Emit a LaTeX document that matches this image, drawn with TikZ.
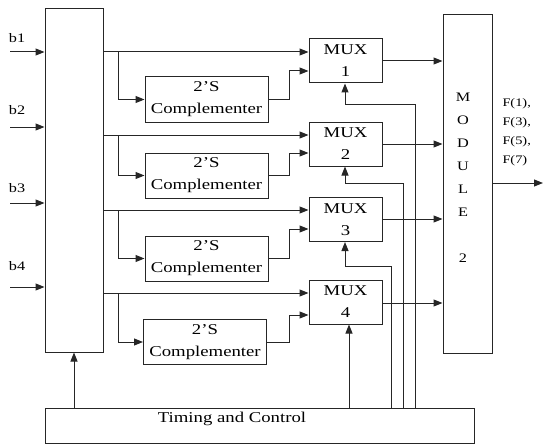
\documentclass[tikz,border=0pt]{standalone}
\usepackage{fontspec}
\setmainfont[FakeStretch=1.25]{Liberation Serif}
\usetikzlibrary{arrows.meta}
\begin{document}
\begin{tikzpicture}[x=1pt,y=-1pt,line width=1pt,draw=black!85,
  arr/.style={-{Triangle[length=9pt,width=7pt]}},
  blk/.style={draw,inner sep=0pt,align=center},
  big/.style={font=\fontsize{15}{22}\selectfont},
  sml/.style={font=\fontsize{11.5}{13}\selectfont,inner sep=0pt},
  mdl/.style={font=\fontsize{13}{15}\selectfont,inner sep=0pt},
  inl/.style={font=\fontsize{13}{15}\selectfont,inner sep=0pt}]
\useasboundingbox (0,0) rectangle (544,444);
% blocks
\node[blk,minimum width=58pt,minimum height=343pt] (L) at (74,180.5) {};
\node[blk,minimum width=49pt,minimum height=338pt] (MOD) at (467.5,184) {};
\node[blk,minimum width=429pt,minimum height=35pt] (T) at (259.5,425.5) {};
\node[big,inner sep=0pt] (Ttext) at (232,419) {Timing and Control};
\node[blk,big,minimum width=123pt,minimum height=45pt] (C1) at (206.5,99.5) {2’S\\Complementer};
\node[blk,big,minimum width=123pt,minimum height=45pt] (C2) at (206.5,175.5) {2’S\\Complementer};
\node[blk,big,minimum width=123pt,minimum height=45pt] (C3) at (206.5,258.5) {2’S\\Complementer};
\node[blk,big,minimum width=123pt,minimum height=45pt] (C4) at (205,342) {2’S\\Complementer};
\node[blk,big,minimum width=73pt,minimum height=44pt] (M1) at (345.5,61) {MUX\\1};
\node[blk,big,minimum width=73pt,minimum height=44pt] (M2) at (345.5,144) {MUX\\2};
\node[blk,big,minimum width=73pt,minimum height=44pt] (M3) at (345.5,219.5) {MUX\\3};
\node[blk,big,minimum width=73pt,minimum height=44pt] (M4) at (345.5,302) {MUX\\4};
% module letters
\foreach \t/\yy [count=\i] in {M/97,O/120,D/143,U/166,L/189,E/212,2/258}
  \node[mdl] (mod\i) at (463,\yy) {\t};
% F labels
\node[sml,anchor=west] (f1) at (502,104) {F(1),};
\node[sml,anchor=west] (f2) at (502,123) {F(3),};
\node[sml,anchor=west] (f3) at (502,142) {F(5),};
\node[sml,anchor=west] (f4) at (502,161) {F(7)};
% input labels
\foreach \yy [count=\i] in {38,110,188,266}
  \node[inl] (bl\i) at (17,\yy) {b\i};
% coordinates
\coordinate (i1) at (10,52); \coordinate (i2) at (10,127);
\coordinate (i3) at (10,203); \coordinate (i4) at (10,287);
\coordinate (r1) at (0,52); \coordinate (r2) at (0,135);
\coordinate (r3) at (0,210); \coordinate (r4) at (0,293);
\coordinate (s1) at (0,71); \coordinate (s2) at (0,153);
\coordinate (s3) at (0,229); \coordinate (s4) at (0,315);
\coordinate (o1) at (0,61); \coordinate (o2) at (0,144);
\coordinate (o3) at (0,219); \coordinate (o4) at (0,303);
\coordinate (bx) at (118,0); \coordinate (cx) at (289,0);
\coordinate (k1) at (415,105); \coordinate (k2) at (403,183);
\coordinate (k3) at (391,266); \coordinate (kx) at (345,0);
\coordinate (k4x) at (349,0); \coordinate (out) at (543,183);
% inputs
\foreach \i in {1,2,3,4}
  \draw[arr] (i\i) -- (L.west |- i\i);
% buses, complementers, mux outputs
\foreach \i in {1,2,3,4}{
  \draw[arr] (L.east |- r\i) -- (M\i.west |- r\i);
  \draw[arr] (bx |- r\i) |- (C\i.west);
  \draw[arr] (C\i.east) -- (cx |- C\i.east) |- (M\i.west |- s\i);
  \draw[arr] (M\i.east |- o\i) -- (MOD.west |- o\i);
}
% control lines
\foreach \i in {1,2,3}
  \draw[arr] (T.north -| k\i) |- (kx |- k\i) -- (kx |- M\i.south);
\draw[arr] (T.north -| k4x) -- (k4x |- M4.south);
\draw[arr] (T.north -| L.south) -- (L.south);
% output
\draw[arr] (MOD.east |- out) -- (out);
\end{tikzpicture}
\end{document}
